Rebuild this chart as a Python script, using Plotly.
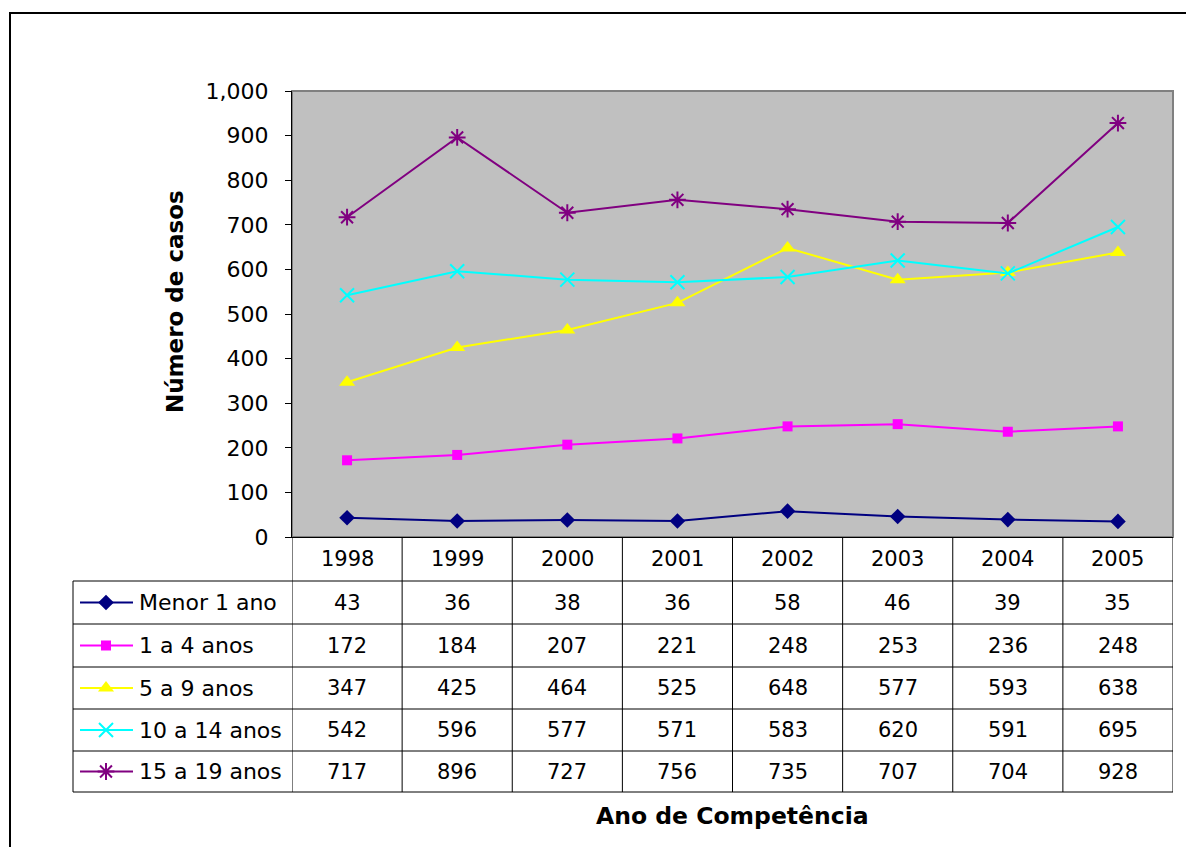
import plotly.graph_objects as go

# ---------------- data ----------------
years = [1998, 1999, 2000, 2001, 2002, 2003, 2004, 2005]
series_names = ["Menor 1 ano", "1 a 4 anos", "5 a 9 anos", "10 a 14 anos", "15 a 19 anos"]
menor_1 = [43, 36, 38, 36, 58, 46, 39, 35]
anos_1_4 = [172, 184, 207, 221, 248, 253, 236, 248]
anos_5_9 = [347, 425, 464, 525, 648, 577, 593, 638]
anos_10_14 = [542, 596, 577, 571, 583, 620, 591, 695]
anos_15_19 = [717, 896, 727, 756, 735, 707, 704, 928]
y_ticks = [0, 100, 200, 300, 400, 500, 600, 700, 800, 900, 1000]
y_title = "Número de casos"
x_title = "Ano de Competência"

series_values = [menor_1, anos_1_4, anos_5_9, anos_10_14, anos_15_19]

# ---------------- styles ----------------
W, H = 1186, 847
colors = ["#000080", "#FF00FF", "#FFFF00", "#00FFFF", "#800080"]
symbols = ["diamond", "square", "triangle-up", "x-thin-open", "asterisk-open"]
sizes = [12, 10, 14, 14, 14]
mlw = [0, 0, 0, 2, 2]
FONT = "DejaVu Sans"

PL, PR, PT, PB = 292, 1173, 91, 537          # plot area in pixels
row_lines = [581, 624, 667, 709, 751, 792]   # table horizontal lines
table_left = 73


def px(x):
    return x / W


def py(y):
    return 1 - y / H


fig = go.Figure()

for name, vals, c, s, sz, lw in zip(series_names, series_values, colors, symbols, sizes, mlw):
    fig.add_trace(go.Scatter(
        x=years, y=vals, name=name, mode="lines+markers",
        line=dict(color=c, width=2),
        marker=dict(symbol=s, size=sz, color=c, line=dict(color=c, width=lw)),
        showlegend=False, cliponaxis=False,
    ))

# legend keys inside the table (pixel axes x2/y2)
row_centers = [(row_lines[i] + row_lines[i + 1]) / 2 for i in range(len(row_lines) - 1)]
for name, c, s, sz, lw, yc in zip(series_names, colors, symbols, sizes, mlw, row_centers):
    fig.add_trace(go.Scatter(
        x=[106], y=[yc], xaxis="x2", yaxis="y2", mode="markers",
        marker=dict(symbol=s, size=sz, color=c, line=dict(color=c, width=lw)),
        showlegend=False, hoverinfo="skip",
    ))

shapes = []
# plot area background + border (gray)
shapes.append(dict(type="rect", xref="paper", yref="paper",
                   x0=px(PL), x1=px(PR), y0=py(PB), y1=py(PT),
                   fillcolor="#C0C0C0",
                   line=dict(color="#808080", width=2), layer="below"))
# outer chart border
shapes.append(dict(type="rect", xref="paper", yref="paper",
                   x0=px(10), x1=1.05, y0=-0.05, y1=py(13),
                   line=dict(color="black", width=2), fillcolor="rgba(0,0,0,0)"))
# table vertical lines
for k in range(len(years) + 1):
    xv = years[0] - 0.5 + k
    shapes.append(dict(type="line", xref="x", yref="paper", x0=xv, x1=xv,
                       y0=py(PB), y1=py(row_lines[-1]),
                       line=dict(color="black", width=1)))
shapes.append(dict(type="line", xref="paper", yref="paper", x0=px(table_left), x1=px(table_left),
                   y0=py(row_lines[0]), y1=py(row_lines[-1]), line=dict(color="black", width=1)))
# table horizontal lines
for yl in row_lines:
    shapes.append(dict(type="line", xref="paper", yref="paper", x0=px(table_left), x1=px(PR),
                       y0=py(yl), y1=py(yl), line=dict(color="black", width=1)))
# legend key lines
for c, yc in zip(colors, row_centers):
    shapes.append(dict(type="line", xref="paper", yref="paper", x0=px(80), x1=px(133),
                       y0=py(yc), y1=py(yc), line=dict(color=c, width=2)))

annotations = []
# header years
for yr in years:
    annotations.append(dict(x=yr, y=py((PB + row_lines[0]) / 2), xref="x", yref="paper",
                            xanchor="center", yanchor="middle",
                            text=str(yr), showarrow=False,
                            font=dict(family=FONT, size=21, color="black")))
# values
for vals, yc in zip(series_values, row_centers):
    for yr, v in zip(years, vals):
        annotations.append(dict(x=yr, y=py(yc), xref="x", yref="paper", text=str(v),
                                xanchor="center", yanchor="middle",
                                showarrow=False, font=dict(family=FONT, size=21, color="black")))
# series labels
for name, yc in zip(series_names, row_centers):
    annotations.append(dict(x=px(137), y=py(yc), xref="paper", yref="paper", text=name,
                            xanchor="left", yanchor="middle", showarrow=False,
                            font=dict(family=FONT, size=22, color="black")))
# axis titles
annotations.append(dict(x=px(175), y=py(302), xref="paper", yref="paper",
                        xanchor="center", yanchor="middle",
                        text="<b>" + y_title + "</b>", textangle=-90, showarrow=False,
                        font=dict(family=FONT, size=23, color="black")))
annotations.append(dict(x=px(732), y=py(816), xref="paper", yref="paper",
                        xanchor="center", yanchor="middle",
                        text="<b>" + x_title + "</b>", showarrow=False,
                        font=dict(family=FONT, size=23.5, color="black")))

fig.update_layout(
    width=W, height=H,
    margin=dict(l=0, r=0, t=0, b=0, autoexpand=False),
    paper_bgcolor="white",
    plot_bgcolor="rgba(0,0,0,0)",
    showlegend=False,
    xaxis=dict(domain=[px(PL), px(PR)], range=[years[0] - 0.5, years[-1] + 0.5],
               showticklabels=False, ticks="", showgrid=False, zeroline=False,
               showline=True, linecolor="black", linewidth=1, anchor="y", fixedrange=True),
    yaxis=dict(domain=[py(PB), py(PT)], range=[y_ticks[0], y_ticks[-1]],
               tickvals=y_ticks, tickformat=",d", ticks="outside", ticklen=6,
               tickcolor="black", tickwidth=1, showgrid=False, zeroline=False,
               showline=True, linecolor="black", linewidth=1, anchor="x",
               ticklabelstandoff=12,
               tickfont=dict(family=FONT, size=22, color="black"), fixedrange=True),
    xaxis2=dict(domain=[0, 1], range=[0, W], visible=False, anchor="y2", fixedrange=True),
    yaxis2=dict(domain=[0, 1], range=[H, 0], visible=False, anchor="x2", fixedrange=True),
    shapes=shapes,
    annotations=annotations,
)

fig.write_html("out.html", config={"displayModeBar": False},
               post_script="document.body.style.margin='0';")
